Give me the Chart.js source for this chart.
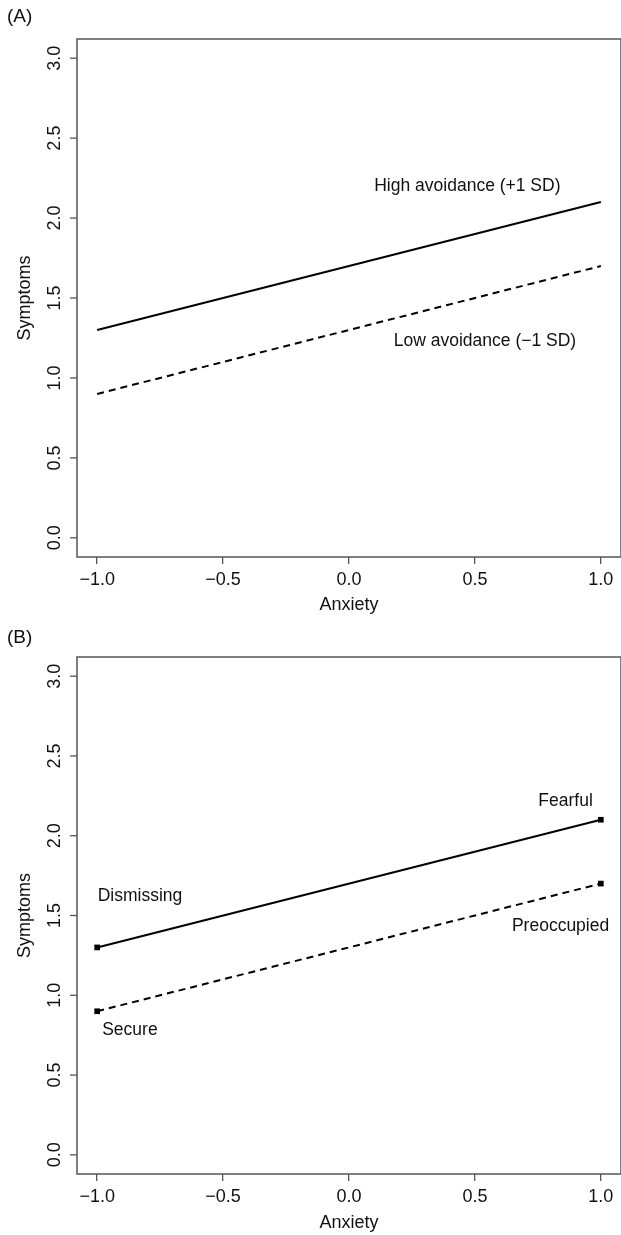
<!DOCTYPE html>
<html>
<head>
<meta charset="utf-8">
<script src="https://cdn.jsdelivr.net/npm/chart.js@4.4.0/dist/chart.umd.min.js"></script>
<style>
  body { margin: 0; background: #fff; }
  canvas { display: block; }
</style>
</head>
<body>
<canvas id="chartA" width="621" height="617"></canvas>
<canvas id="chartB" width="621" height="618"></canvas>
<script>
// DATA
const anxiety = [-1, 1];
const highAvoidance = [1.3, 2.1];
const lowAvoidance = [0.9, 1.7];
const xTicks = [-1, -0.5, 0, 0.5, 1];
const yTicks = [0, 0.5, 1, 1.5, 2, 2.5, 3];

// text notes, placed in data units
const notesA = [
    { text: "High avoidance (+1 SD)", x: 0.47, y: 2.2 },
    { text: "Low avoidance (\u22121 SD)", x: 0.54, y: 1.23 }
];
const notesB = [
    { text: "Dismissing", x: -0.83, y: 1.62 },
    { text: "Fearful", x: 0.86, y: 2.215 },
    { text: "Preoccupied", x: 0.84, y: 1.43 },
    { text: "Secure", x: -0.87, y: 0.78 }
];

const FONT = "'Liberation Sans', Arial, Helvetica, sans-serif";
const AXIS = "#555";

function fmt(v) {
    return (v < 0 ? "\u2212" : "") + Math.abs(v).toFixed(1);
}

/* -------------------------
   EXTRA DRAWING
--------------------------*/

const panelPlugin = {
    id: "panel",
    afterDraw(chart, args, opts) {
        const ctx = chart.ctx;
        const area = chart.chartArea;
        const xs = chart.scales.x;
        const ys = chart.scales.y;

        ctx.save();
        ctx.strokeStyle = AXIS;
        ctx.lineWidth = 1.5;
        ctx.strokeRect(area.left, area.top, area.right - area.left, area.bottom - area.top);

        // y ticks and their upright labels
        ctx.lineWidth = 1.3;
        ctx.fillStyle = "#111";
        ctx.font = "18px " + FONT;
        ctx.textAlign = "center";
        ctx.textBaseline = "middle";
        yTicks.forEach(v => {
            const py = ys.getPixelForValue(v);
            ctx.beginPath();
            ctx.moveTo(area.left - 7, py);
            ctx.lineTo(area.left, py);
            ctx.stroke();
            ctx.save();
            ctx.translate(55, py);
            ctx.rotate(-Math.PI / 2);
            ctx.fillText(fmt(v), 0, 0);
            ctx.restore();
        });

        ctx.font = "19px " + FONT;
        ctx.textAlign = "left";
        ctx.fillText(opts.tag, 7, opts.tagY);

        ctx.font = "17.5px " + FONT;
        ctx.textAlign = "center";
        opts.notes.forEach(n => {
            ctx.fillText(n.text, xs.getPixelForValue(n.x), ys.getPixelForValue(n.y));
        });
        ctx.restore();
    }
};

/* -------------------------
   BUILD ONE PANEL
--------------------------*/

function makePanel(id, tag, tagY, notes, markers, padTop) {
    const canvas = document.getElementById(id);
    const axisHeight = canvas.height - 557;

    const lineSet = (label, values, dash) => ({
        label: label,
        data: anxiety.map((x, i) => ({ x: x, y: values[i] })),
        borderColor: "#000",
        backgroundColor: "#000",
        borderWidth: 2,
        borderDash: dash,
        pointStyle: "rect",
        pointRadius: markers ? 4 : 0,
        pointBorderWidth: 0,
        tension: 0
    });

    return new Chart(canvas, {
        type: "line",
        data: {
            datasets: [
                lineSet("High avoidance", highAvoidance, []),
                lineSet("Low avoidance", lowAvoidance, [7, 5])
            ]
        },
        options: {
            responsive: false,
            animation: false,
            devicePixelRatio: 1,
            layout: { autoPadding: false, padding: { top: padTop, right: 0, bottom: 0, left: 0 } },
            plugins: {
                legend: { display: false },
                tooltip: { enabled: false },
                panel: { tag: tag, tagY: tagY, notes: notes }
            },
            scales: {
                x: {
                    type: "linear",
                    min: -1.08,
                    max: 1.08,
                    afterBuildTicks: s => { s.ticks = xTicks.map(v => ({ value: v })); },
                    afterFit: s => { s.height = axisHeight; },
                    border: { display: false },
                    grid: { drawOnChartArea: false, tickLength: 7, color: AXIS, lineWidth: 1.3 },
                    ticks: {
                        color: "#111",
                        font: { family: FONT, size: 18 },
                        padding: 5,
                        maxRotation: 0,
                        callback: v => fmt(v)
                    },
                    title: {
                        display: true,
                        text: "Anxiety",
                        color: "#111",
                        font: { family: FONT, size: 18 },
                        padding: { top: 0, bottom: 1 }
                    }
                },
                y: {
                    type: "linear",
                    min: -0.12,
                    max: 3.12,
                    afterBuildTicks: s => { s.ticks = yTicks.map(v => ({ value: v })); },
                    afterFit: s => { s.width = 77; },
                    border: { display: false },
                    grid: { display: false },
                    ticks: { display: false },
                    title: {
                        display: true,
                        text: "Symptoms",
                        color: "#111",
                        font: { family: FONT, size: 18 },
                        padding: { top: 14, bottom: 0 }
                    }
                }
            }
        },
        plugins: [panelPlugin]
    });
}

/* -------------------------
   INIT
--------------------------*/

makePanel("chartA", "(A)", 17, notesA, false, 39);
makePanel("chartB", "(B)", 21, notesB, true, 40);
</script>
</body>
</html>
